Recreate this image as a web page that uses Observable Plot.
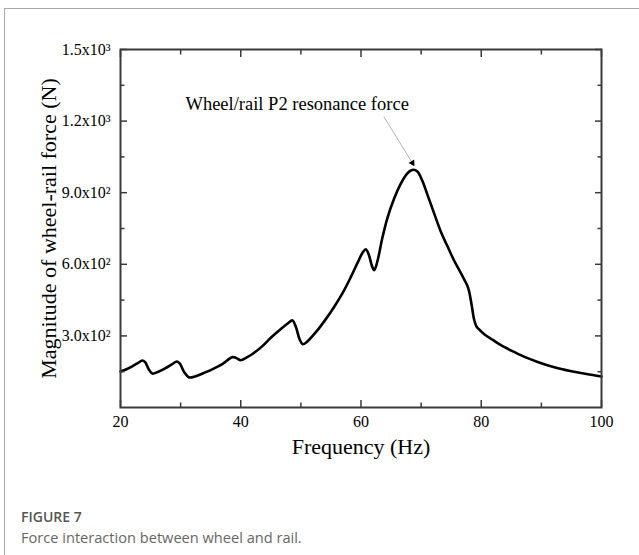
<!DOCTYPE html>
<html><head><meta charset="utf-8">
<script src="https://cdn.jsdelivr.net/npm/d3@7"></script>
<script src="https://cdn.jsdelivr.net/npm/@observablehq/plot@0.6"></script>
<style>
html,body{margin:0;padding:0;background:#fff;}
#page{position:relative;width:639px;height:555px;overflow:hidden;}
#frame{position:absolute;left:4px;top:8px;width:660px;height:600px;border-left:1.5px solid #a8a8a8;border-top:1.5px solid #a8a8a8;}
#chart{position:absolute;left:0;top:0;}
.cap1{position:absolute;left:21px;top:508px;font:600 14px/17px 'Open Sans',sans-serif;color:#555;white-space:nowrap;}
.cap2{position:absolute;left:21px;top:529px;font:400 14.6px/17.5px 'Open Sans',sans-serif;color:#666;white-space:nowrap;}
</style></head><body>
<div id="page"><div id="frame"></div><div id="chart"></div>
<div class="cap1">FIGURE 7</div><div class="cap2">Force interaction between wheel and rail.</div></div>
<script>
const frequency = [20.0,21.0,22.0,23.0,23.6,24.1,24.7,25.3,26.3,27.5,28.6,29.4,29.9,30.6,31.4,32.5,34.0,35.5,37.0,38.6,39.2,40.0,41.0,42.0,43.5,45.0,46.5,47.8,48.6,49.2,49.8,50.3,51.0,52.7,54.0,55.5,57.0,58.3,59.5,60.3,60.8,61.3,61.8,62.2,62.8,63.5,64.4,65.5,66.6,67.6,68.3,68.8,69.4,70.2,71.0,72.0,73.2,74.7,75.5,76.3,77.2,77.6,77.95,78.4,78.8,79.2,79.6,80.5,82.0,83.2,85.0,87.1,89.5,92.0,95.0,97.5,100.0];
const force = [151,160,173,188,197,190,160,142,150,165,182,193,183,148,126,131,146,163,183,211,208,198,210,225,255,292,325,352,365,335,285,265,275,322,365,420,482,546,610,650,663,640,595,575,620,705,795,875,937,978,993,996,988,950,895,825,742,658,615,578,535,515,490,430,370,340,328,307,282,262,238,213,190,170,152,140,130];
const xMajorTicks = [20,40,60,80,100];
const xMinorTicks = [30,50,70,90];
const yMajorTicks = [300,600,900,1200,1500];
const yMajorLabels = ["3.0x10²","6.0x10²","9.0x10²","1.2x10³","1.5x10³"];
const yMinorTicks = [150,450,750,1050,1350];
const xLabel = "Frequency (Hz)";
const yLabel = "Magnitude of wheel-rail force (N)";
const annotations = [{label:"Wheel/rail P2 resonance force", x:30.8, y:1270}];
const arrowShaft = [{x1:63.8, y1:1219, x2:68.7, y2:1018}];
const arrowHead = [{x:68.55, y:1025}];

const data = frequency.map((f,i)=>({f, v: force[i]}));
const serif = "'Liberation Serif','Times New Roman',serif";
const yFmt = d => yMajorLabels[yMajorTicks.indexOf(d)];
const blank = () => "";

const plot = Plot.plot({
  width: 639, height: 480,
  marginLeft: 120, marginRight: 38, marginTop: 49, marginBottom: 73,
  x: {domain:[20,100]}, y: {domain:[0,1500]},
  style: {fontFamily: serif, fontSize: "16px", color:"#000", background:"transparent", overflow:"visible"},
  marks: [
    Plot.line(data, {x:"f", y:"v", curve:"catmull-rom", stroke:"#000", strokeWidth:2.6}),
    Plot.frame({stroke:"#3a3a3a", strokeWidth:2}),
    Plot.axisX(xMajorTicks, {anchor:"bottom", tickSize:-7, tickPadding:15, label:null, stroke:"#3a3a3a", strokeWidth:1.5, fontSize:16}),
    Plot.axisX(xMinorTicks, {anchor:"bottom", tickSize:-4.5, tickFormat:blank, label:null, stroke:"#3a3a3a", strokeWidth:1.5}),
    Plot.axisX(xMajorTicks, {anchor:"top", tickSize:-7, tickFormat:blank, label:null, stroke:"#3a3a3a", strokeWidth:1.5}),
    Plot.axisX(xMinorTicks, {anchor:"top", tickSize:-4.5, tickFormat:blank, label:null, stroke:"#3a3a3a", strokeWidth:1.5}),
    Plot.axisY(yMajorTicks, {anchor:"left", tickSize:-7, tickPadding:17, tickFormat:yFmt, label:null, stroke:"#3a3a3a", strokeWidth:1.5, fontSize:16}),
    Plot.axisY(yMinorTicks, {anchor:"left", tickSize:-4.5, tickFormat:blank, label:null, stroke:"#3a3a3a", strokeWidth:1.5}),
    Plot.axisY(yMajorTicks, {anchor:"right", tickSize:-7, tickFormat:blank, label:null, stroke:"#3a3a3a", strokeWidth:1.5}),
    Plot.axisY(yMinorTicks, {anchor:"right", tickSize:-4.5, tickFormat:blank, label:null, stroke:"#3a3a3a", strokeWidth:1.5}),
    Plot.text([xLabel], {frameAnchor:"bottom", dy:46, fontSize:22, fill:"#000"}),
    Plot.text([yLabel], {frameAnchor:"left", textAnchor:"middle", rotate:-90, dx:-72, fontSize:22, fill:"#000"}),
    Plot.text(annotations, {x:"x", y:"y", text:"label", textAnchor:"start", fontSize:18.5, fill:"#000"}),
    Plot.link(arrowShaft, {x1:"x1", y1:"y1", x2:"x2", y2:"y2", stroke:"#a0a0a0", strokeWidth:0.8}),
    Plot.dot(arrowHead, {x:"x", y:"y", symbol:"triangle2", r:3.2, fill:"#000", stroke:null, rotate:148})
  ]
});
document.getElementById("chart").appendChild(plot);
</script>
</body></html>
